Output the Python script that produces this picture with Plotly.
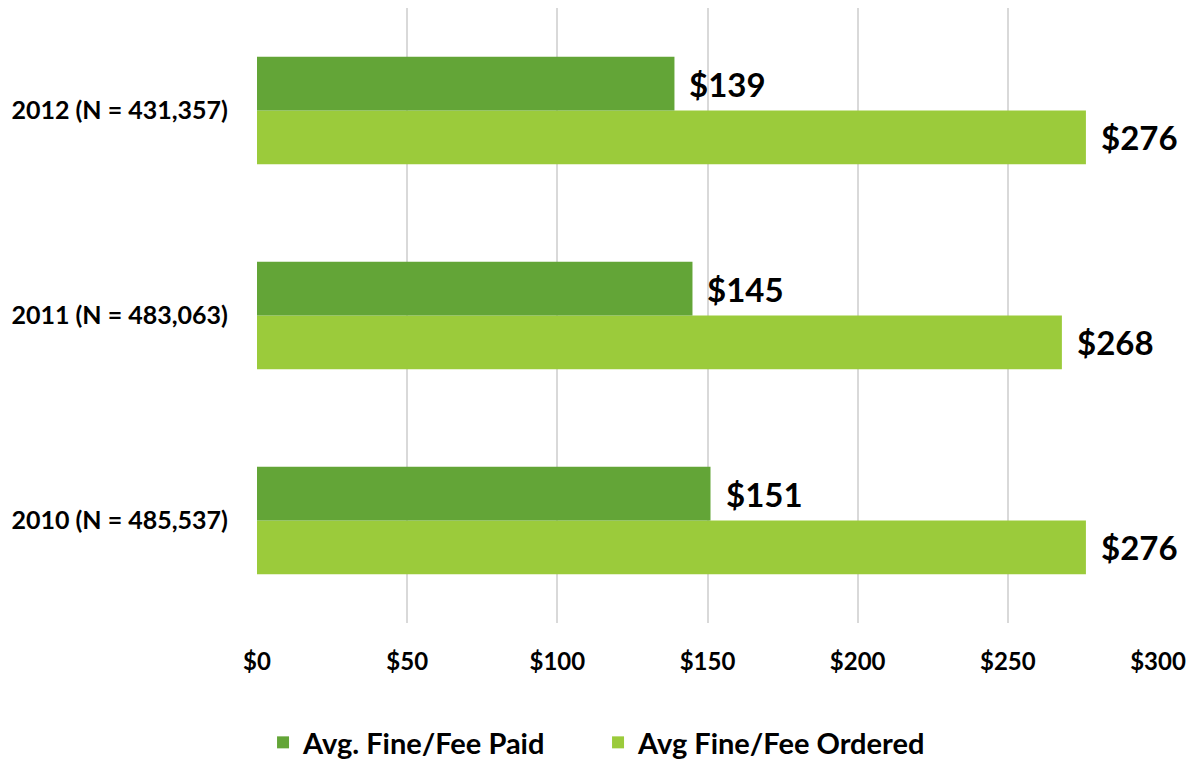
import plotly.graph_objects as go

categories = ["2010 (N = 485,537)", "2011 (N = 483,063)", "2012 (N = 431,357)"]
paid = [151, 145, 139]
ordered = [276, 268, 276]
series_names = ["Avg. Fine/Fee Paid", "Avg Fine/Fee Ordered"]
x_ticks = [0, 50, 100, 150, 200, 250, 300]
x_tick_labels = ["$" + str(v) for v in x_ticks]

DARK = "#63A537"
LIGHT = "#9BCB3B"
FONT = "Lato"

fig = go.Figure()
fig.add_trace(go.Bar(
    y=categories, x=ordered, name=series_names[1], orientation="h",
    marker=dict(color=LIGHT, line=dict(width=0)), legendrank=2,
))
fig.add_trace(go.Bar(
    y=categories, x=paid, name=series_names[0], orientation="h",
    marker=dict(color=DARK, line=dict(width=0)), legendrank=1,
))

# value labels
half = 26.75
for cat, v in zip(categories, paid):
    fig.add_annotation(x=v, y=cat, text="$" + str(v), showarrow=False,
                       xanchor="left", xshift=13, yshift=half,
                       font=dict(family=FONT, size=33, color="black", weight="bold"))
for cat, v in zip(categories, ordered):
    fig.add_annotation(x=v, y=cat, text="$" + str(v), showarrow=False,
                       xanchor="left", xshift=13, yshift=-half,
                       font=dict(family=FONT, size=33, color="black", weight="bold"))

fig.update_layout(
    width=1188, height=768,
    margin=dict(l=257, r=30, t=8, b=145),
    paper_bgcolor="white", plot_bgcolor="white",
    barmode="group", bargap=0.476, bargroupgap=0,
    font=dict(family=FONT, color="black", size=24, weight="bold"),
    showlegend=True,
    legend=dict(orientation="h", xref="container", yref="container",
                x=0.5034, xanchor="center", y=0.0, yanchor="bottom",
                font=dict(family=FONT, size=29, color="black", weight="bold"),
                itemwidth=30, entrywidth=290, traceorder="normal"),
    xaxis=dict(range=[0, 300], tickvals=x_ticks, ticktext=x_tick_labels,
               automargin=False,
               showgrid=True, gridcolor="#D9D9D9", gridwidth=1.5,
               zeroline=False, showline=False,
               ticks="outside", ticklen=17, tickcolor="rgba(0,0,0,0)",
               tickfont=dict(family=FONT, size=24, color="black", weight="bold")),
    yaxis=dict(automargin=False, showgrid=False, zeroline=False, showline=False,
               ticks="outside", ticklen=23, tickcolor="rgba(0,0,0,0)",
               tickfont=dict(family=FONT, size=25, color="black", weight="bold")),
)

fig.write_html(
    "out.html",
    config={"displayModeBar": False},
    post_script="document.body.style.margin='0';document.body.style.overflow='hidden';",
)
